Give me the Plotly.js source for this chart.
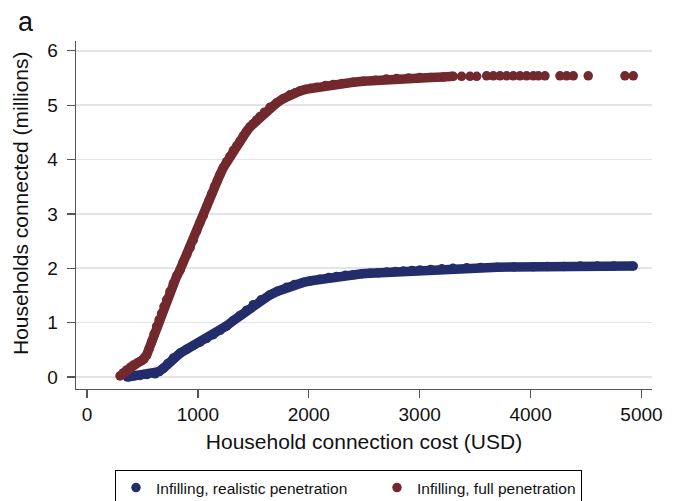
<!DOCTYPE html>
<html><head><meta charset="utf-8">
<script src="https://cdn.plot.ly/plotly-3.0.1.min.js"></script>
<style>html,body{margin:0;padding:0;background:#fff}#chart{width:676px;height:501px}</style>
</head><body><div id="chart"></div>
<script>
// Household connection cost (USD) vs households connected (millions)
const blueX = [365,420,478,540,613,650,688,730,778,840,
  898,960,1019,1080,1139,1200,1259,1320,1380,1440,
  1500,1570,1650,1720,1800,1870,1950,2020,2101,2180,
  2251,2330,2401,2480,2552,2630,2702,2780,2852,2930,
  3003,3100,3200,3300,3424,3550,3700,3850,4025,4150,
  4300,4450,4600,4750,4926];
const blueY = [0.00,0.02,0.03,0.045,0.06,0.10,0.16,0.25,0.35,0.44,
  0.51,0.58,0.64,0.71,0.78,0.86,0.94,1.04,1.13,1.23,
  1.33,1.42,1.51,1.58,1.65,1.70,1.74,1.77,1.80,1.83,
  1.85,1.87,1.88,1.90,1.91,1.92,1.93,1.94,1.95,1.96,
  1.97,1.98,1.99,2.00,2.01,2.015,2.02,2.025,2.03,2.035,
  2.035,2.04,2.04,2.04,2.04];
const redX = [298,330,358,390,418,455,492,515,537,560,
  583,605,628,650,673,695,718,748,778,810,
  839,868,900,930,959,990,1019,1049,1080,1100,
  1124,1150,1175,1199,1229,1260,1289,1320,1350,1380,
  1410,1440,1470,1500,1530,1560,1600,1650,1710,1770,
  1830,1880,1921,1970,2020,2071,2150,2221,2300,2400,
  2491,2600,2700,2792,2900,3000,3100,3213,3303,3378,
  3454,3514,3604,3664,3724,3784,3844,3904,3964,4025,
  4070,4130,4265,4325,4385,4520,4851,4926];
const redY = [0.02,0.08,0.13,0.18,0.22,0.26,0.30,0.33,0.40,0.52,
  0.65,0.79,0.93,1.05,1.17,1.30,1.42,1.57,1.72,1.86,
  1.97,2.12,2.25,2.38,2.52,2.69,2.84,2.97,3.14,3.24,
  3.37,3.50,3.61,3.72,3.85,3.96,4.06,4.17,4.25,4.34,
  4.43,4.52,4.60,4.66,4.73,4.79,4.87,4.96,5.04,5.12,
  5.19,5.23,5.26,5.29,5.31,5.33,5.36,5.38,5.40,5.42,
  5.44,5.46,5.48,5.49,5.50,5.51,5.51,5.52,5.53,5.53,
  5.53,5.53,5.54,5.54,5.54,5.54,5.54,5.54,5.54,5.54,
  5.54,5.54,5.54,5.54,5.54,5.54,5.54,5.54];
const seriesNames = ['Infilling, realistic penetration', 'Infilling, full penetration'];
const xTicks = [0, 1000, 2000, 3000, 4000, 5000];
const yTicks = [0, 1, 2, 3, 4, 5, 6];
const redDenseUpTo = 3303; // beyond this cost the red markers are spaced apart

const BLUE = '#232d6c';
const RED = '#72292e';
const MS = 9.5;

const redLineX = redX.filter(x => x <= redDenseUpTo);
const redLineY = redY.filter((y, i) => redX[i] <= redDenseUpTo);

const traces = [
  {x: blueX, y: blueY, mode: 'lines', line: {color: BLUE, width: MS}, showlegend: false, hoverinfo: 'skip'},
  {x: blueX, y: blueY, mode: 'markers', name: seriesNames[0], marker: {color: BLUE, size: MS}, legendwidth: 216},
  {x: redLineX, y: redLineY, mode: 'lines', line: {color: RED, width: MS}, showlegend: false, hoverinfo: 'skip'},
  {x: redX, y: redY, mode: 'markers', name: seriesNames[1], marker: {color: RED, size: MS}}
];

const FONT = 'Liberation Sans, Arial, Helvetica, sans-serif';
const layout = {
  width: 676, height: 501,
  margin: {l: 76, r: 24, t: 41, b: 112, pad: 0},
  paper_bgcolor: '#ffffff', plot_bgcolor: '#ffffff',
  font: {family: FONT, color: '#111111'},
  xaxis: {
    range: [-99, 5095], tickvals: xTicks, ticktext: xTicks.map(String),
    ticks: 'outside', ticklen: 8, tickwidth: 1.3, tickcolor: '#555555',
    showline: true, linecolor: '#555555', linewidth: 1.3,
    showgrid: false, zeroline: false, automargin: false,
    tickfont: {size: 19, family: FONT, color: '#111'},
    title: {text: 'Household connection cost (USD)', font: {size: 21, family: FONT, color: '#111'}, standoff: 10}
  },
  yaxis: {
    range: [-0.22, 6.18], tickvals: yTicks, ticktext: yTicks.map(String),
    ticks: 'outside', ticklen: 8, tickwidth: 1.3, tickcolor: '#555555',
    showline: true, linecolor: '#555555', linewidth: 1.3,
    showgrid: true, gridcolor: '#e3e3ea', gridwidth: 1.6, zeroline: false, automargin: false,
    ticklabelstandoff: 5,
    tickfont: {size: 19, family: FONT, color: '#111'}
  },
  showlegend: true,
  legend: {
    orientation: 'h', xref: 'container', yref: 'container',
    x: 115 / 676, y: 1 - 470 / 501, xanchor: 'left', yanchor: 'top',
    bordercolor: '#000000', borderwidth: 1, bgcolor: '#ffffff',
    font: {size: 15.5, family: FONT, color: '#111'},
    traceorder: 'normal'
  },
  annotations: [
    {text: 'a', xref: 'paper', yref: 'paper', x: -0.087, y: 1.054, xanchor: 'center', yanchor: 'middle',
     showarrow: false, font: {size: 27, family: FONT, color: '#111'}},
    {text: 'Households connected (millions)', xref: 'paper', yref: 'paper', x: -0.0955, y: 0.5345,
     xanchor: 'center', yanchor: 'middle', textangle: -90, showarrow: false,
     font: {size: 21, family: FONT, color: '#111'}}
  ]
};

Plotly.newPlot('chart', traces, layout, {displayModeBar: false, staticPlot: true});
</script>
</body></html>
